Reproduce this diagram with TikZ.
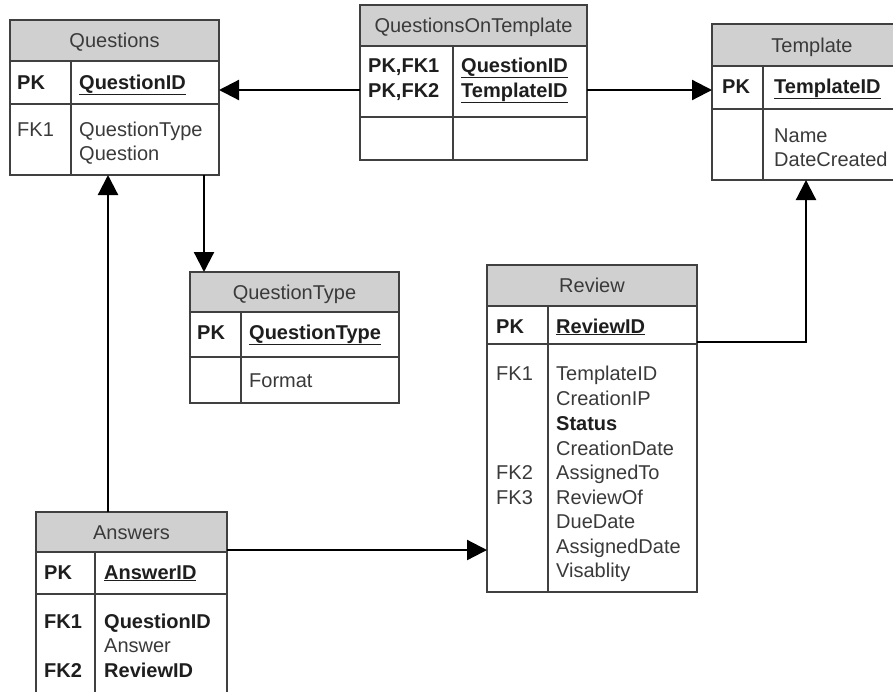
\documentclass[tikz,border=0pt]{standalone}
\usepackage{fontspec}
\setmainfont{Liberation Sans}
\usetikzlibrary{arrows.meta}

\definecolor{tblline}{HTML}{404040}
\definecolor{hdrgray}{HTML}{D0D0D0}
\definecolor{txtgray}{HTML}{3A3A3A}
\definecolor{keyblack}{HTML}{1E1E1E}

\newcommand\erfont{\fontsize{20}{24}\selectfont}

% one entity box: name, x, y, width, height, header height, key-row bottom, divider offset, title
\newcommand\ertable[9]{%
  \node[tblbox, minimum width=#4pt, minimum height=#5pt] (#1) at (#2,#3) {};
  \node[tblhead, minimum width=#4pt, minimum height=#6pt] (#1-hdr) at (#2,#3) {};
  \node[tbltitle] (#1-title) at (#1-hdr.center) {#9};
  \draw[tblsep] (#2,#3+#7) -- (#2+#4,#3+#7);
  \draw[tblsep] (#2+#8,#3+#6) -- (#2+#8,#3+#5);
}

\tikzset{
  tblbox/.style={draw=tblline, line width=1.4pt, fill=white, inner sep=0pt, outer sep=0pt, anchor=north west},
  tblhead/.style={draw=tblline, line width=1.4pt, fill=hdrgray, inner sep=0pt, outer sep=0pt, anchor=north west},
  tblsep/.style={draw=tblline, line width=1.4pt},
  tbltitle/.style={inner sep=0pt, font=\erfont, text=txtgray, text height=14pt, text depth=0pt},
  fld/.style={anchor=west, inner sep=0pt, font=\erfont, text=txtgray, text height=14pt, text depth=0pt},
  keyfld/.style={fld, font=\erfont\bfseries, text=keyblack},
  rel/.style={draw=black, line width=2.2pt, -{Triangle[length=20pt,width=20pt]}}
}

\begin{document}
\begin{tikzpicture}[x=1pt, y=-1pt]
  \useasboundingbox (0,0) rectangle (893,691);
  \clip (0,0) rectangle (893,691);

  % entity boxes
  \ertable{questions}{10}{20}{209}{155}{41}{84}{61}{Questions}
  \ertable{qot}{360}{5}{227}{155}{41}{112}{93}{QuestionsOnTemplate}
  \ertable{template}{712}{24}{200}{156}{42}{85}{51}{Template}
  \ertable{qtype}{190}{272}{209}{131}{40}{85}{51}{QuestionType}
  \ertable{review}{487}{265}{210}{327}{41}{79}{61}{Review}
  \ertable{answers}{36}{512}{191}{200}{40}{82}{59}{Answers}

  % Questions
  \node[keyfld] (q-pk) at (17,82) {PK};
  \node[keyfld] (q-id) at (79,82) {\underline{QuestionID}};
  \node[fld] (q-fk1) at (17,129) {FK1};
  \node[fld] (q-type) at (79,129) {QuestionType};
  \node[fld] (q-text) at (79,153) {Question};

  % QuestionsOnTemplate
  \node[keyfld] (qot-k1) at (368,65) {PK,FK1};
  \node[keyfld] (qot-k2) at (368,90) {PK,FK2};
  \node[keyfld] (qot-qid) at (461,65) {\underline{QuestionID}};
  \node[keyfld] (qot-tid) at (461,90) {\underline{TemplateID}};

  % Template
  \node[keyfld] (t-pk) at (722,86) {PK};
  \node[keyfld] (t-id) at (774,86) {\underline{TemplateID}};
  \node[fld] (t-name) at (774,135) {Name};
  \node[fld] (t-date) at (774,159) {DateCreated};

  % QuestionType
  \node[keyfld] (qt-pk) at (197,332) {PK};
  \node[keyfld] (qt-id) at (249,332) {\underline{QuestionType}};
  \node[fld] (qt-format) at (249,380) {Format};

  % Review
  \node[keyfld] (r-pk) at (496,326) {PK};
  \node[keyfld] (r-id) at (556,326) {\underline{ReviewID}};
  \node[fld] (r-fk1) at (496,373) {FK1};
  \node[fld] (r-fk2) at (496,472) {FK2};
  \node[fld] (r-fk3) at (496,497) {FK3};
  \node[fld] (r-tid) at (556,373) {TemplateID};
  \node[fld] (r-ip) at (556,398) {CreationIP};
  \node[keyfld] (r-status) at (556,423) {Status};
  \node[fld] (r-cdate) at (556,448) {CreationDate};
  \node[fld] (r-to) at (556,472) {AssignedTo};
  \node[fld] (r-of) at (556,497) {ReviewOf};
  \node[fld] (r-due) at (556,521) {DueDate};
  \node[fld] (r-adate) at (556,546) {AssignedDate};
  \node[fld] (r-vis) at (556,570) {Visablity};

  % Answers
  \node[keyfld] (a-pk) at (44,572) {PK};
  \node[keyfld] (a-id) at (104,572) {\underline{AnswerID}};
  \node[keyfld] (a-fk1) at (44,621) {FK1};
  \node[keyfld] (a-qid) at (104,621) {QuestionID};
  \node[fld] (a-text) at (104,645) {Answer};
  \node[keyfld] (a-fk2) at (44,670) {FK2};
  \node[keyfld] (a-rid) at (104,670) {ReviewID};

  % relationships
  \coordinate (qotL) at ([yshift=-85pt]qot.north west);
  \coordinate (qotR) at ([yshift=-85pt]qot.north east);
  \coordinate (qDown) at ([xshift=194pt]questions.south west);
  \coordinate (aUp) at ([xshift=72pt]answers.north west);
  \coordinate (aRight) at ([yshift=-38pt]answers.north east);
  \coordinate (rRight) at ([yshift=-77pt]review.north east);
  \coordinate (tUp) at ([xshift=94pt]template.south west);

  \draw[rel] (qotL) -- (qotL -| questions.east);
  \draw[rel] (qotR) -- (qotR -| template.west);
  \draw[rel] (qDown) -- (qDown |- qtype.north);
  \draw[rel] (aUp) -- (aUp |- questions.south);
  \draw[rel] (aRight) -- (aRight -| review.west);
  \draw[rel] (rRight) -| (tUp);
\end{tikzpicture}
\end{document}
